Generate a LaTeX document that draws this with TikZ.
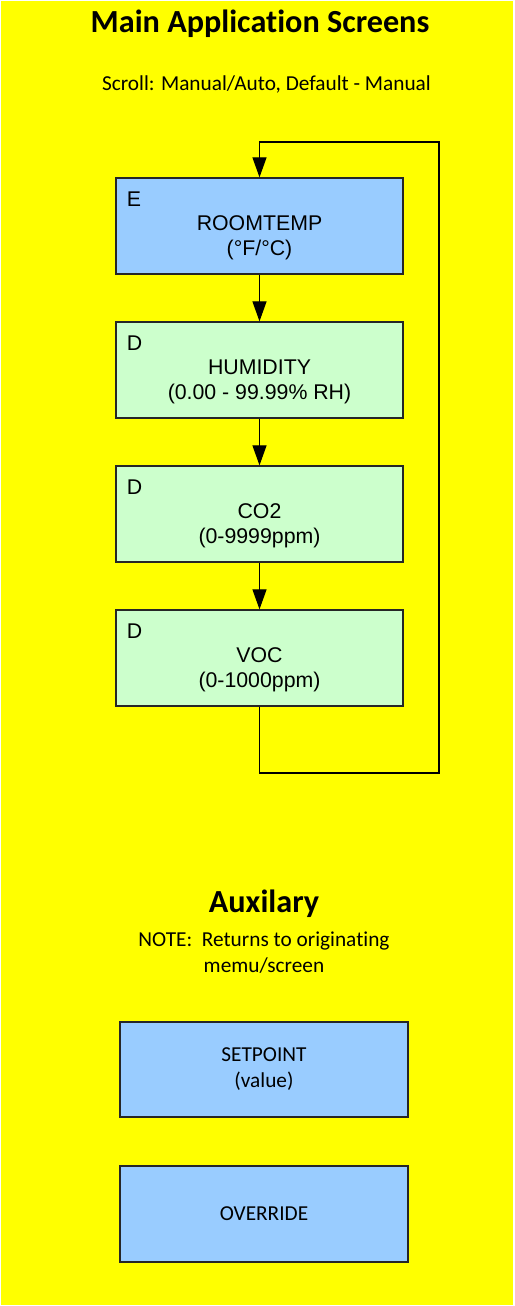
\documentclass[tikz,border=0pt]{standalone}
\usepackage{fontspec}
\setmainfont[Ligatures=NoCommon]{Carlito}
\newfontfamily\arialfont{Liberation Sans}
\usetikzlibrary{arrows.meta}
\definecolor{bgyellow}{HTML}{FFFF00}
\definecolor{scrblue}{HTML}{99CCFF}
\definecolor{scrgreen}{HTML}{CCFFCC}

\begin{document}
\begin{tikzpicture}[x=1pt,y=-1pt,
    screen/.style={draw=black!85, line width=1.3pt, minimum width=287pt, minimum height=96pt, inner sep=0pt},
    flow/.style={-{Triangle[length=20pt,width=14pt]}, line width=1.2pt},
    boxtext/.style={align=center, font=\arialfont\fontsize{21.3}{25.5}\selectfont},
    auxtext/.style={align=center, font=\fontsize{21.3}{26}\selectfont}]
    \useasboundingbox (0,0) rectangle (514,1306);
    \fill[bgyellow] (1,1) rectangle (513,1305);

    % headings
    \node[font=\bfseries\fontsize{32.2}{36}\selectfont] (title) at (260,24) {Main Application Screens};
    \node[auxtext] (scroll) at (266.5,84) {Scroll: Manual/Auto, Default - Manual};

    % main screens
    \node[screen, fill=scrblue] (temp) at (259.5,226) {};
    \node[screen, fill=scrgreen] (humid) at (259.5,370) {};
    \node[screen, fill=scrgreen] (co) at (259.5,514) {};
    \node[screen, fill=scrgreen] (voc) at (259.5,658) {};

    \node[boxtext, anchor=west] (temptag) at ([xshift=8pt,yshift=-22pt]temp.north west) {E};
    \node[boxtext, anchor=west] (humidtag) at ([xshift=8pt,yshift=-22pt]humid.north west) {D};
    \node[boxtext, anchor=west] (cotag) at ([xshift=8pt,yshift=-22pt]co.north west) {D};
    \node[boxtext, anchor=west] (voctag) at ([xshift=8pt,yshift=-22pt]voc.north west) {D};

    \node[boxtext] (temptxt) at ([yshift=-12pt]temp.center) {ROOMTEMP\\(°F/°C)};
    \node[boxtext] (humidtxt) at ([yshift=-12pt]humid.center) {HUMIDITY\\(0.00 - 99.99\% RH)};
    \node[boxtext] (cotxt) at ([yshift=-12pt]co.center) {CO2\\(0-9999ppm)};
    \node[boxtext] (voctxt) at ([yshift=-12pt]voc.center) {VOC\\(0-1000ppm)};

    \draw[flow] (temp) -- (humid);
    \draw[flow] (humid) -- (co);
    \draw[flow] (co) -- (voc);

    % loop back to the first screen
    \coordinate (loopR) at (439,773);
    \coordinate (loopT) at (439,142);
    \draw[flow] (voc.south) |- (loopR) -- (loopT) -| (temp.north);

    % auxiliary screens
    \node[font=\bfseries\fontsize{32.2}{36}\selectfont] (aux) at (264,904) {Auxilary};
    \node[auxtext] (note) at (264,953) {NOTE:\ \ Returns to originating\\memu/screen};
    \node[screen, fill=scrblue, minimum width=288pt, minimum height=95pt, auxtext] (setp) at (264,1069.5) {SETPOINT\\(value)};
    \node[screen, fill=scrblue, minimum width=288pt, minimum height=96pt, auxtext] (over) at (264,1214) {OVERRIDE};
\end{tikzpicture}
\end{document}
